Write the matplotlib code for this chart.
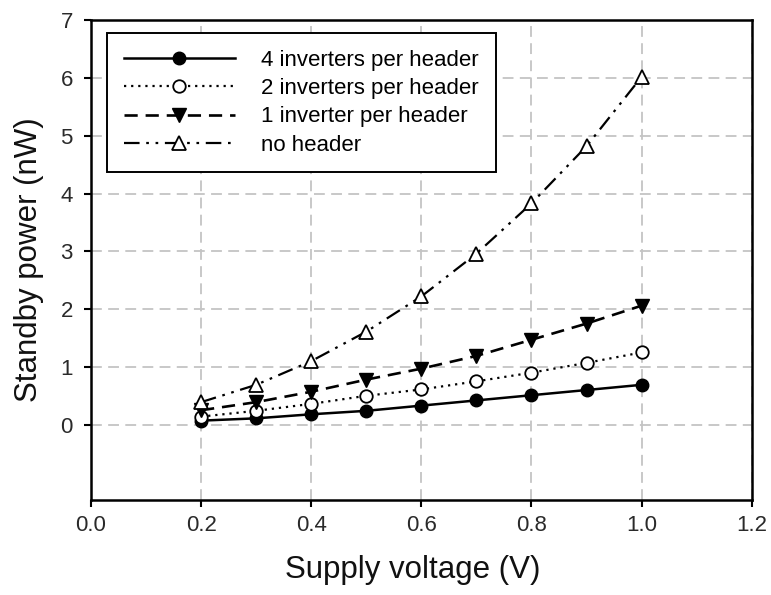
import matplotlib
matplotlib.use('Agg')
import matplotlib.pyplot as plt

# supply voltage (V)
voltage = [0.2, 0.3, 0.4, 0.5, 0.6, 0.7, 0.8, 0.9, 1.0]

# standby power (nW)
inv4 = [0.07, 0.11, 0.18, 0.24, 0.33, 0.42, 0.51, 0.60, 0.69]
inv2 = [0.14, 0.24, 0.36, 0.50, 0.61, 0.75, 0.90, 1.07, 1.25]
inv1 = [0.25, 0.39, 0.57, 0.78, 0.97, 1.19, 1.47, 1.75, 2.06]
no_header = [0.39, 0.69, 1.10, 1.61, 2.22, 2.96, 3.83, 4.82, 6.02]

labels = ['4 inverters per header', '2 inverters per header',
          '1 inverter per header', 'no header']

plt.rcParams['font.family'] = ['Liberation Sans', 'DejaVu Sans']

fig = plt.figure(figsize=(7.71, 5.95), dpi=100)
ax = fig.add_axes([0.118, 0.160, 0.857, 0.806])

ax.plot(voltage, inv4, color='black', linewidth=1.8, linestyle='-',
        marker='o', markersize=9, markerfacecolor='black', markeredgecolor='black',
        label=labels[0])
ax.plot(voltage, inv2, color='black', linewidth=1.6, linestyle=(0, (1, 2.2)),
        marker='o', markersize=9, markerfacecolor='white', markeredgecolor='black',
        markeredgewidth=1.3, label=labels[1])
ax.plot(voltage, inv1, color='black', linewidth=1.9, linestyle=(0, (5, 3)),
        marker='v', markersize=10, markerfacecolor='black', markeredgecolor='black',
        label=labels[2])
ax.plot(voltage, no_header, color='black', linewidth=1.6,
        linestyle=(0, (7, 3, 1.2, 3, 1.2, 3)),
        marker='^', markersize=10, markerfacecolor='white', markeredgecolor='black',
        markeredgewidth=1.3, label=labels[3])

ax.set_xlim(0.0, 1.2)
ax.set_ylim(-1.3, 7)
ax.set_xticks([0.0, 0.2, 0.4, 0.6, 0.8, 1.0, 1.2])
ax.set_xticklabels(['0.0', '0.2', '0.4', '0.6', '0.8', '1.0', '1.2'])
ax.set_yticks(range(0, 8))

ax.grid(True, color='#c4c4c4', linestyle=(0, (6, 3.5)), linewidth=1.3)
ax.set_axisbelow(True)

for s in ax.spines.values():
    s.set_linewidth(1.8)
    s.set_color('black')

ax.tick_params(axis='both', direction='out', length=5, width=1.5,
               labelsize=16, color='black', labelcolor='#2a2a2a')
ax.tick_params(axis='x', pad=6)
ax.tick_params(axis='y', pad=8)

ax.set_xlabel('Supply voltage (V)', fontsize=22.5, labelpad=14, color='#111111')
ax.set_ylabel('Standby power (nW)', fontsize=22.5, labelpad=12, color='#111111')
ax.xaxis.set_label_coords(0.487, -0.115)

leg = ax.legend(loc='upper left', fontsize=16, frameon=True, fancybox=False,
                edgecolor='black', framealpha=1, handlelength=5.0,
                handletextpad=1.2, borderpad=0.75, labelspacing=0.33,
                bbox_to_anchor=(107 / 771, 1 - 33 / 595),
                bbox_transform=fig.transFigure, borderaxespad=0)
leg.get_frame().set_linewidth(1.4)

fig.savefig('out.png', dpi=100)
plt.close(fig)
